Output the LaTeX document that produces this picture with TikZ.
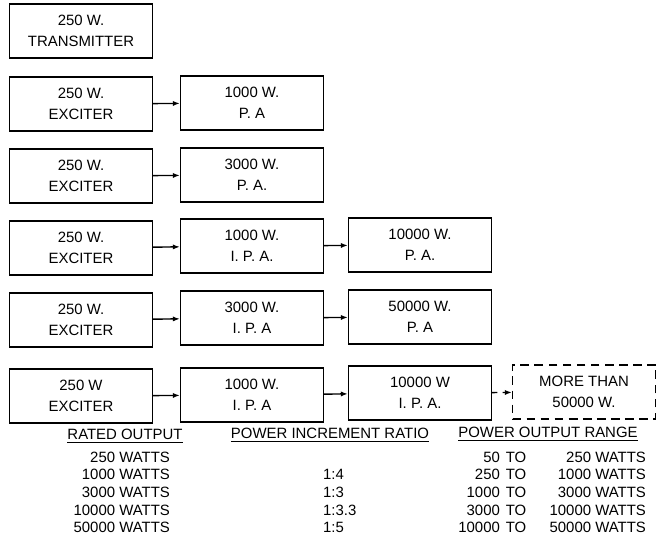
\documentclass[tikz,border=0pt]{standalone}
\usepackage{fontspec}
\setmainfont{Liberation Sans}
\usetikzlibrary{arrows.meta}

\begin{document}
\begin{tikzpicture}[x=0.02cm, y=-0.02cm,
	box/.style={draw, thick, minimum width=2.86cm, minimum height=1.08cm, align=center, font=\fontsize{8.5}{12}\selectfont},
	dashbox/.style={box, dash pattern=on 5pt off 3pt},
	conn/.style={-{Latex[length=4pt, width=3pt]}, thick},
	lbl/.style={font=\fontsize{8.5}{10}\selectfont, inner sep=1pt}]
	\useasboundingbox (0,0) rectangle (658,540);

	% chains of stages
	\node[box] (tx) at (81,31) {250 W.\\TRANSMITTER};

	\node[box] (ex1) at (81,104) {250 W.\\EXCITER};
	\node[box] (pa1) at (252,103) {1000 W.\\P. A};

	\node[box] (ex2) at (81,176) {250 W.\\EXCITER};
	\node[box] (pa2) at (252,175) {3000 W.\\P. A.};

	\node[box] (ex3) at (81,248) {250 W.\\EXCITER};
	\node[box] (ipa3) at (252,246) {1000 W.\\I. P. A.};
	\node[box] (pa3) at (420,245) {10000 W.\\P. A.};

	\node[box] (ex4) at (81,320) {250 W.\\EXCITER};
	\node[box] (ipa4) at (252,318) {3000 W.\\I. P. A};
	\node[box] (pa4) at (420,317) {50000 W.\\P. A};

	\node[box] (ex5) at (81,396) {250 W\\EXCITER};
	\node[box] (ipa5) at (252,395) {1000 W.\\I. P. A};
	\node[box] (pa5) at (420,393) {10000 W\\I. P. A.};
	\node[dashbox] (more) at (584,392) {MORE THAN\\50000 W.};

	\draw[conn] (ex1) -- (pa1);
	\draw[conn] (ex2) -- (pa2);
	\draw[conn] (ex3) -- (ipa3);
	\draw[conn] (ipa3) -- (pa3);
	\draw[conn] (ex4) -- (ipa4);
	\draw[conn] (ipa4) -- (pa4);
	\draw[conn] (ex5) -- (ipa5);
	\draw[conn] (ipa5) -- (pa5);
	\draw[conn, dashed] (pa5) -- (more);

	% table
	\node[lbl] (hrated) at (125,436) {\underline{RATED OUTPUT}};
	\node[lbl] (hratio) at (330,435) {\underline{POWER INCREMENT RATIO}};
	\node[lbl] (hrange) at (548,434) {\underline{POWER OUTPUT RANGE}};

	\foreach \w [count=\i] in {250,1000,3000,10000,50000}
	\node[lbl, anchor=east] (out\i) at (172, {439.3+17.7*\i}) {\w\ WATTS};

	\foreach \r [count=\i from 2] in {4,3,3.3,5}
	\node[lbl, anchor=west] (ratio\i) at (321, {439.3+17.7*\i}) {1:\r};

	\foreach \lo/\hi [count=\i] in {50/250,250/1000,1000/3000,3000/10000,10000/50000} {
	\node[lbl, anchor=east] (lo\i) at (502, {439.3+17.7*\i}) {\lo};
	\node[lbl] (to\i) at (516, {439.3+17.7*\i}) {TO};
	\node[lbl, anchor=east] (hi\i) at (648, {439.3+17.7*\i}) {\hi\ WATTS};
	}

\end{tikzpicture}
\end{document}
